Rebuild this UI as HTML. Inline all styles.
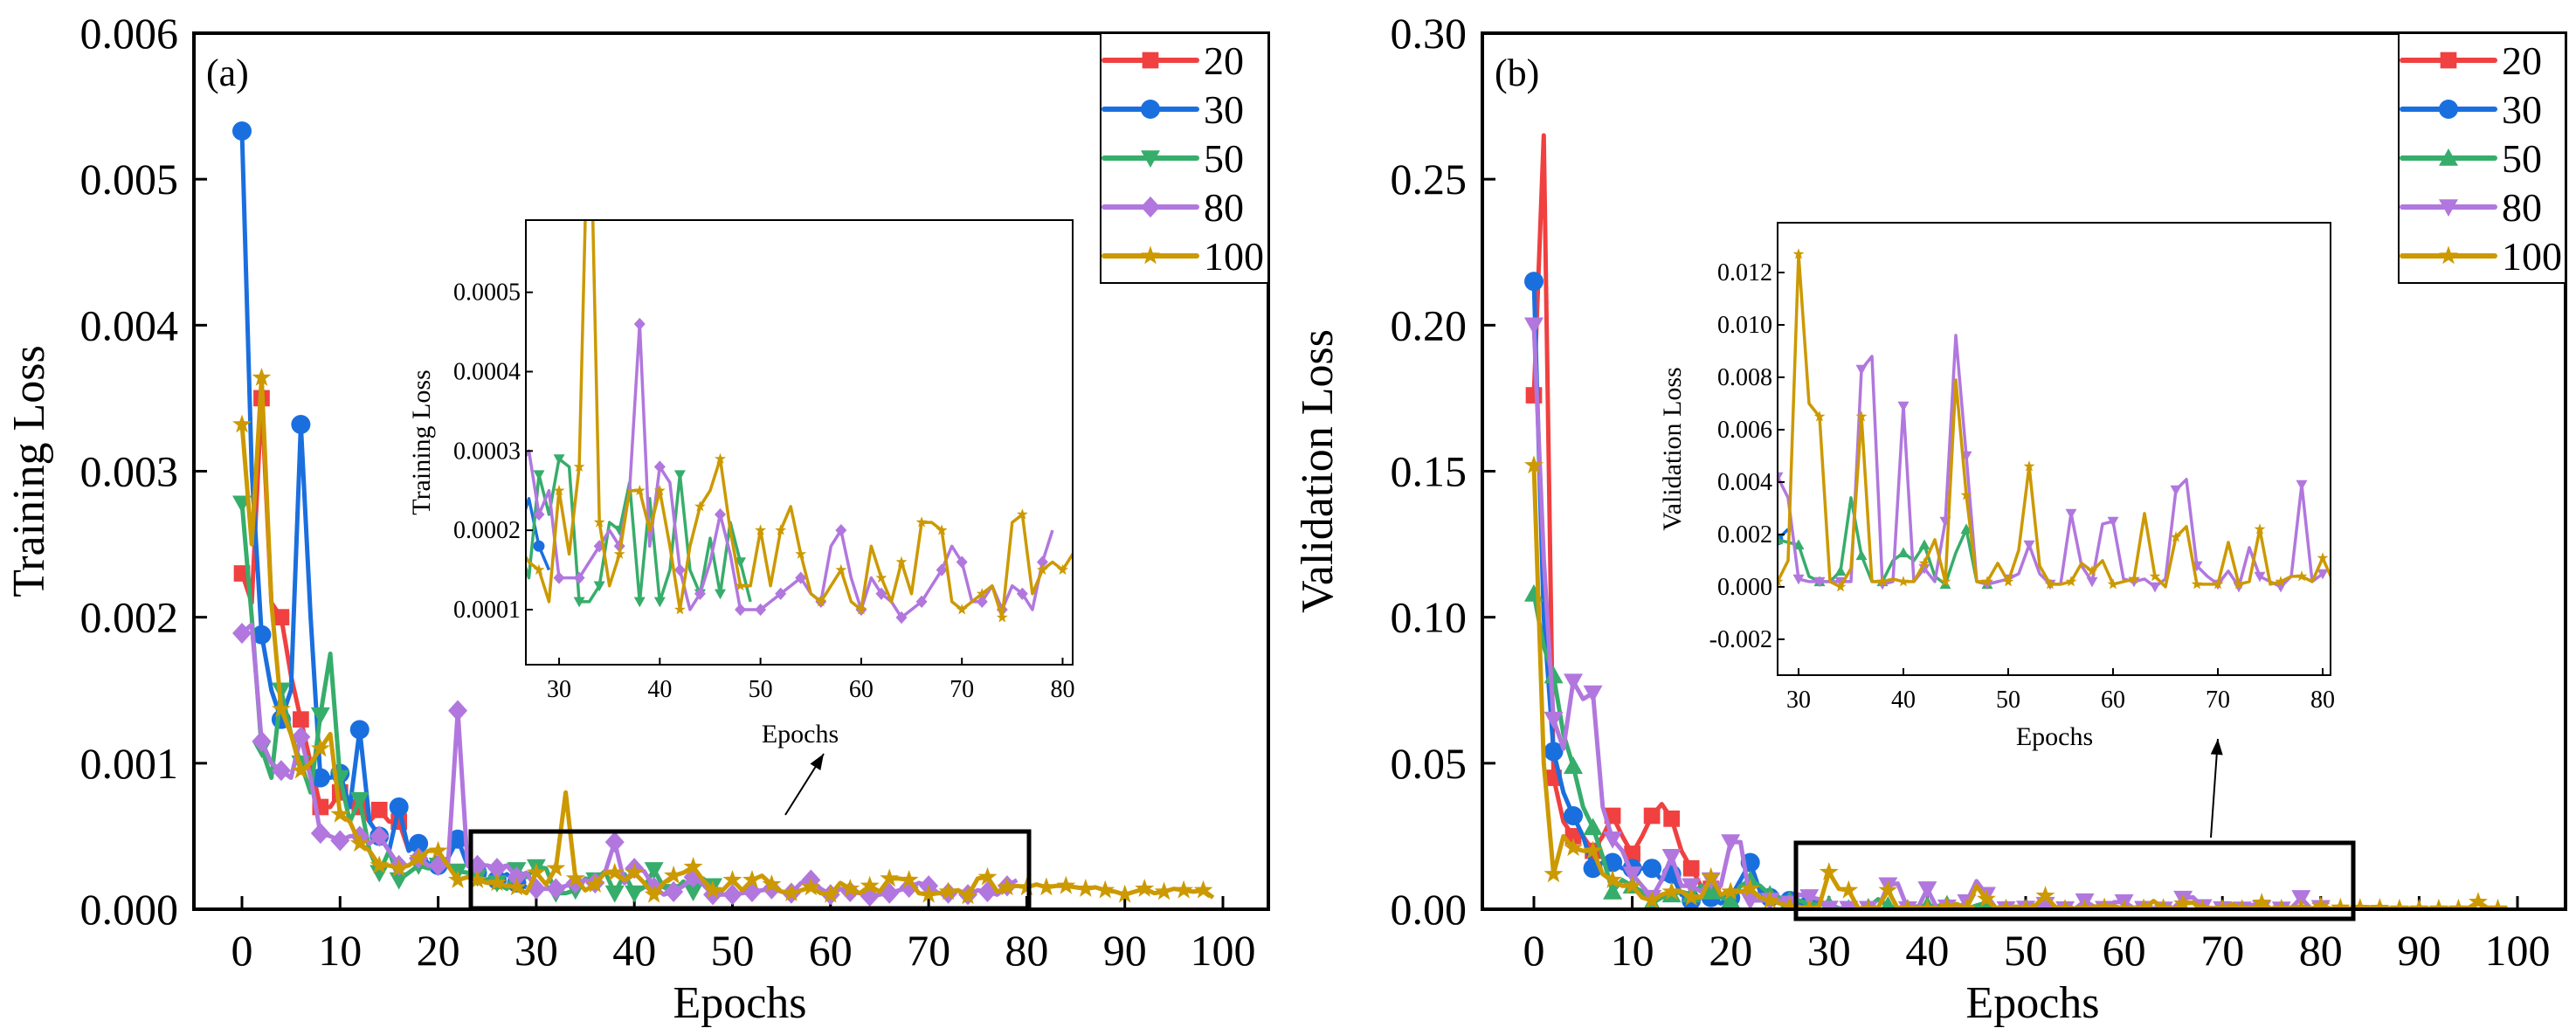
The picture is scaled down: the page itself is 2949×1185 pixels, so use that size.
<!DOCTYPE html>
<html><head><meta charset="utf-8"><style>
html,body{margin:0;padding:0;background:#fff;}
svg{display:block;}
svg text{font-family:"Liberation Serif","Times New Roman",serif;}
</style></head><body>
<svg id="chart" width="2949" height="1185" viewBox="0 0 2949 1185" xmlns="http://www.w3.org/2000/svg" font-family="Liberation Serif, serif"></svg>
<script>
const seriesNames = ["20","30","50","80","100"];
const colors = ["#F04040","#1A6FDF","#37AD6B","#B177DE","#CC9900"];
// Training loss (a)
const trainS20 = [0.0023,0.0021,0.0035,0.0021,0.0020,0.0016,0.0013,0.0010,0.0007,0.0007,0.0008,0.0007,0.0007,0.0006,0.00068,0.0006,0.0006,0.0004];
const trainS30 = [0.00533,0.0030,0.00188,0.0015,0.0013,0.0015,0.00332,0.0020,0.0009,0.0009,0.00093,0.0007,0.00123,0.0006,0.0005,0.0004,0.0007,0.0004,0.00045,0.0003,0.0003,0.00035,0.00048,0.0003,0.00025,0.0002,0.0002,0.00024,0.00018,0.00015];
const trainS50 = [0.00278,0.0020,0.0011,0.0009,0.0015,0.0012,0.0010,0.0008,0.00133,0.00175,0.0009,0.0006,0.00075,0.0004,0.00025,0.0004,0.0002,0.00025,0.0003,0.00028,0.0003,0.0003,0.00026,0.00025,0.00022,0.0002,0.00018,0.00014,0.00027,0.00022,0.00029,0.00028,0.00011,0.00011,0.00013,0.00021,0.0002,0.00026,0.00011,0.00024,0.00011,0.00015,0.00027,0.00015,0.00012,0.00019,0.00012,0.00021,0.00016,0.00011];
const trainS80 = [0.00189,0.00195,0.00115,0.0010,0.00095,0.0009,0.00118,0.0009,0.00052,0.0005,0.00047,0.0005,0.0005,0.00045,0.0005,0.0004,0.0003,0.0003,0.00035,0.0003,0.0003,0.0003,0.00136,0.0003,0.0003,0.0003,0.00028,0.0003,0.00022,0.00025,0.00014,0.00014,0.00014,0.00016,0.00018,0.0002,0.00018,0.00025,0.00046,0.00018,0.00028,0.00026,0.00015,0.0001,0.00012,0.00016,0.00022,0.00017,0.0001,0.0001,0.0001,0.00011,0.00012,0.00013,0.00014,0.00012,0.00011,0.00018,0.0002,0.00014,0.0001,0.00014,0.00012,0.00011,0.00009,0.0001,0.00011,0.00013,0.00015,0.00018,0.00016,0.00011,0.00011,0.00013,0.0001,0.00013,0.00012,0.0001,0.00016,0.0002];
const trainS100 = [0.00332,0.0025,0.00364,0.0021,0.00137,0.0012,0.00095,0.001,0.0011,0.0012,0.00065,0.0006,0.00045,0.0004,0.0003,0.0003,0.00028,0.0003,0.00035,0.0004,0.0004,0.0003,0.0002,0.00022,0.0002,0.00018,0.00018,0.00016,0.00015,0.00011,0.00025,0.00017,0.00028,0.0008,0.00021,0.00013,0.00017,0.00025,0.00025,0.0002,0.00025,0.00018,0.0001,0.00018,0.00023,0.00025,0.00029,0.0002,0.00013,0.00013,0.0002,0.00013,0.0002,0.00023,0.00017,0.00012,0.00011,0.00013,0.00015,0.00011,0.0001,0.00018,0.00014,0.00011,0.00016,0.00012,0.00021,0.00021,0.0002,0.00011,0.0001,0.00011,0.00012,0.00013,0.00009,0.00021,0.00022,0.00012,0.00015,0.00016,0.00015,0.00017,0.00015,0.00016,0.00016,0.00015,0.00014,0.00015,0.00013,0.00012,0.0001,0.00012,0.00014,0.00011,0.00012,0.00014,0.00013,0.00012,0.00013,0.00008];
// Validation loss (b)
const valS20 = [0.176,0.265,0.045,0.03,0.025,0.025,0.02,0.025,0.032,0.025,0.019,0.025,0.032,0.036,0.031,0.02,0.014,0.008,0.007,0.007];
const valS30 = [0.215,0.1,0.054,0.04,0.032,0.025,0.014,0.016,0.016,0.014,0.014,0.014,0.014,0.01,0.012,0.005,0.003,0.004,0.004,0.002,0.004,0.01,0.016,0.006,0.004,0.003,0.003,0.002,0.0018,0.0022];
const valS50 = [0.108,0.09,0.08,0.06,0.049,0.035,0.028,0.018,0.006,0.01,0.008,0.006,0.002,0.004,0.005,0.006,0.005,0.008,0.006,0.004,0.003,0.008,0.01,0.008,0.005,0.004,0.003,0.003,0.0018,0.0017,0.0016,0.0004,0.0002,0.0002,0.0006,0.0034,0.0012,0.0002,0.0002,0.001,0.0013,0.001,0.0016,0.0004,0.0001,0.0013,0.0022,0.0002,0.0001,0.0002];
const valS80 = [0.2,0.12,0.065,0.055,0.078,0.072,0.074,0.035,0.024,0.02,0.012,0.008,0.004,0.01,0.018,0.008,0.008,0.006,0.01,0.008,0.023,0.023,0.003,0.003,0.003,0.003,0.002,0.005,0.0042,0.0034,0.0003,0.0002,0.0002,0.0002,0.0002,0.0002,0.0083,0.0088,0.0001,0.0002,0.0069,0.0002,0.0007,0.0002,0.0025,0.0096,0.005,0.0002,0.0001,0.0002,0.0003,0.0005,0.0016,0.0005,0.0001,0.0001,0.0028,0.0008,0.0002,0.0024,0.0025,0.0003,0.0002,0.0003,0.0,0.0003,0.0037,0.0041,0.0008,0.0004,0.0001,0.0006,0.0,0.0015,0.0004,0.0002,0.0,0.0004,0.0039,0.0002,0.0005];
const valS100 = [0.152,0.05,0.012,0.025,0.021,0.02,0.02,0.012,0.01,0.008,0.008,0.004,0.003,0.005,0.006,0.006,0.004,0.004,0.011,0.005,0.006,0.006,0.007,0.004,0.003,0.002,0.001,0.0008,0.0002,0.001,0.0127,0.007,0.0065,0.0002,0.0,0.0007,0.0065,0.0002,0.0002,0.0003,0.0002,0.0002,0.0009,0.0018,0.0002,0.0079,0.0035,0.0002,0.0002,0.0009,0.0002,0.0014,0.0046,0.0008,0.0001,0.0001,0.0002,0.0009,0.0006,0.001,0.0001,0.0002,0.0003,0.0028,0.0004,0.0,0.0019,0.0023,0.0001,0.0001,0.0001,0.0017,0.0001,0.0002,0.0022,0.0001,0.0002,0.0004,0.0004,0.0002,0.0011,0.0002,0.0005,0.0003,0.0004,0.0006,0.0004,0.0003,0.0002,0.0003,0.0002,0.0002,0.0002,0.0003,0.0002,0.0004,0.0025,0.0004,0.0002,0.0003];
const mainXTicks = [0,10,20,30,40,50,60,70,80,90,100];
const trainYTicks = ["0.000","0.001","0.002","0.003","0.004","0.005","0.006"];
const valYTicks = ["0.00","0.05","0.10","0.15","0.20","0.25","0.30"];
const insetXTicks = [30,40,50,60,70,80];
const trainInsetYTicks = ["0.0001","0.0002","0.0003","0.0004","0.0005"];
const valInsetYTicks = ["-0.002","0.000","0.002","0.004","0.006","0.008","0.010","0.012"];

const NS="http://www.w3.org/2000/svg";
const svg=document.getElementById('chart');
function mk(tag,attrs,parent){const e=document.createElementNS(NS,tag);for(const k in attrs)e.setAttribute(k,attrs[k]);(parent||svg).appendChild(e);return e;}
let clipId=0;
function marker(g,shape,x,y,r,color){
  let e;
  if(shape==='square') e=mk('rect',{x:x-r*0.85,y:y-r*0.85,width:r*1.7,height:r*1.7,fill:color},g);
  else if(shape==='circle') e=mk('circle',{cx:x,cy:y,r:r,fill:color},g);
  else if(shape==='tdown') e=mk('polygon',{points:`${x-r},${y-r*0.8} ${x+r},${y-r*0.8} ${x},${y+r}`,fill:color},g);
  else if(shape==='tup') e=mk('polygon',{points:`${x-r},${y+r*0.8} ${x+r},${y+r*0.8} ${x},${y-r}`,fill:color},g);
  else if(shape==='diamond') e=mk('polygon',{points:`${x},${y-r*1.1} ${x+r},${y} ${x},${y+r*1.1} ${x-r},${y}`,fill:color},g);
  else { let p=[];for(let i=0;i<10;i++){const a=-Math.PI/2+i*Math.PI/5;const rr=i%2?r*0.42:r*1.05;p.push((x+rr*Math.cos(a)).toFixed(1)+','+(y+rr*Math.sin(a)).toFixed(1));}
    e=mk('polygon',{points:p.join(' '),fill:color},g);}
  
  
}
function drawSeries(parent,data,sx,sy,color,shape,lw,r,name,clip){
  const g=mk('g',clip?{'clip-path':`url(#${clip})`}:{},parent);
  
  
  const pts=data.map((v,i)=>sx(i).toFixed(1)+','+sy(v).toFixed(1)).join(' ');
  const pl=mk('polyline',{points:pts,fill:'none',stroke:color,'stroke-width':lw,'stroke-linejoin':'round'},g);
  
  
  data.forEach((v,i)=>{if(i%2===0) marker(g,shape,sx(i),sy(v),r,color);});
}
function txt(parent,s,x,y,size,anchor,name,extra){
  const t=mk('text',Object.assign({x:x,y:y,'font-size':size,'text-anchor':anchor||'middle',fill:'#000','font-family':'Liberation Serif, serif'},extra||{}),parent);
  t.textContent=s;
  
  
  return t;
}
function panel(cfg){
  const g=mk('g',{});
  
  
  const {L,R,T,B}=cfg;
  const sx=i=>cfg.x0+(i)*(cfg.x100-cfg.x0)/100;
  const sy=v=>B-(v/cfg.ymax)*(B-T);
  mainXTicks.forEach(t=>{mk('line',{x1:sx(t),x2:sx(t),y1:B,y2:B-15,stroke:'#000','stroke-width':3},g);
    txt(g,String(t),sx(t),1105,50,'middle','x-tick-label');});
  cfg.yticks.forEach((t,i)=>{const y=B-i*(B-T)/(cfg.yticks.length-1);
    mk('line',{x1:L,x2:L+15,y1:y,y2:y,stroke:'#000','stroke-width':3},g);
    txt(g,t,L-18,y+17,50,'end','y-tick-label');});
  txt(g,'Epochs',(L+R)/2+10,1165,52,'middle','x-axis-title');
  txt(g,cfg.ytitle,0,0,52,'middle','y-axis-title',{transform:`translate(${L-172},${(T+B)/2}) rotate(-90)`});
  txt(g,cfg.tag,L+14,98,44,'start','panel-label');
  const cid='clip'+(clipId++);
  const cp=mk('clipPath',{id:cid},g);mk('rect',{x:L,y:T,width:R-L,height:B-T},cp);
  cfg.data.forEach((d,k)=>drawSeries(g,d,sx,sy,colors[k],cfg.shapes[k],5,11,seriesNames[k],cid));
  const fr=mk('rect',{x:L,y:T,width:R-L,height:B-T,fill:'none',stroke:'#000','stroke-width':4},g);
  
  const zb=cfg.zoomBox;
  const zr=mk('rect',{x:zb[0],y:zb[1],width:zb[2]-zb[0],height:zb[3]-zb[1],fill:'none',stroke:'#000','stroke-width':5},g);
  
  const a=cfg.arrow;
  const al=mk('line',{x1:a[0],y1:a[1],x2:a[2],y2:a[3],stroke:'#000','stroke-width':2},g);
  
  const ang=Math.atan2(a[3]-a[1],a[2]-a[0]);const hl=18,hw=7;
  const bx=a[2]-hl*Math.cos(ang),by=a[3]-hl*Math.sin(ang);
  mk('polygon',{points:`${a[2]},${a[3]} ${bx+hw*Math.sin(ang)},${by-hw*Math.cos(ang)} ${bx-hw*Math.sin(ang)},${by+hw*Math.cos(ang)}`,fill:'#000'},g);
  const I=cfg.inset;
  const ig=mk('g',{},g);
  
  mk('rect',{x:I.L,y:I.T,width:I.R-I.L,height:I.B-I.T,fill:'#fff'},ig);
  const isx=e=>I.L+(e-I.xmin)*(I.R-I.L)/(I.xmax-I.xmin);
  const isy=v=>I.B-(v-I.ymin)*(I.B-I.T)/(I.ymax-I.ymin);
  const icid='clip'+(clipId++);
  const icp=mk('clipPath',{id:icid},ig);mk('rect',{x:I.L,y:I.T,width:I.R-I.L,height:I.B-I.T},icp);
  cfg.data.forEach((d,k)=>drawSeries(ig,d,isx,isy,colors[k],cfg.shapes[k],3.5,6.5,'inset-'+seriesNames[k],icid));
  insetXTicks.forEach(t=>{mk('line',{x1:isx(t),x2:isx(t),y1:I.B,y2:I.B-8,stroke:'#000','stroke-width':2},ig);
    txt(ig,String(t),isx(t),I.B+37,28,'middle','inset-x-tick-label');});
  I.yticks.forEach(t=>{const y=isy(parseFloat(t));
    mk('line',{x1:I.L,x2:I.L+8,y1:y,y2:y,stroke:'#000','stroke-width':2},ig);
    txt(ig,t,I.L-6,y+9,28,'end','inset-y-tick-label');});
  const ifr=mk('rect',{x:I.L,y:I.T,width:I.R-I.L,height:I.B-I.T,fill:'none',stroke:'#000','stroke-width':2},ig);
  
  txt(ig,'Epochs',I.epX,I.epY,30,'middle','inset-x-axis-title');
  txt(ig,cfg.ytitle,0,0,30,'middle','inset-y-axis-title',{transform:`translate(${I.ytX},${(I.T+I.B)/2}) rotate(-90)`});
  const lg=mk('g',{},g);
  
  mk('rect',{x:cfg.legX,y:T,width:R-cfg.legX,height:286,fill:'#fff',stroke:'#000','stroke-width':2},lg);
  seriesNames.forEach((n,k)=>{const y=69+k*56;
    const eg=mk('g',{},lg);
    
    mk('line',{x1:cfg.legX+4,x2:cfg.legX+110,y1:y,y2:y,stroke:colors[k],'stroke-width':6,'stroke-linecap':'round'},eg);
    marker(eg,cfg.shapes[k],cfg.legX+57,y,11,colors[k]);
    txt(eg,n,cfg.legX+118,y+16,46,'start','legend-label');});
}
panel({name:'training-loss-panel',L:222,R:1452,T:38,B:1041,x0:277,x100:1400,ymax:0.006,yticks:trainYTicks,
  ytitle:'Training Loss',tag:'(a)',data:[trainS20,trainS30,trainS50,trainS80,trainS100],
  shapes:['square','circle','tdown','diamond','star'],legX:1260,
  zoomBox:[539,952,1178,1040],arrow:[899,933,943,863],
  inset:{L:602,R:1228,T:252,B:761,xmin:26.7,xmax:81.0,ymin:0.0000306,ymax:0.000591,yticks:trainInsetYTicks,epX:916,epY:850,ytX:492}});
panel({name:'validation-loss-panel',L:1697,R:2937,T:38,B:1041,x0:1756,x100:2882,ymax:0.30,yticks:valYTicks,
  ytitle:'Validation Loss',tag:'(b)',data:[valS20,valS30,valS50,valS80,valS100],
  shapes:['square','circle','tup','tdown','star'],legX:2746,
  zoomBox:[2056,965,2694,1052],arrow:[2531,959,2539,846],
  inset:{L:2035,R:2668,T:255,B:773,xmin:28.0,xmax:80.75,ymin:-0.00337,ymax:0.0139,yticks:valInsetYTicks,epX:2352,epY:853,ytX:1924}});
</script>
</body></html>
